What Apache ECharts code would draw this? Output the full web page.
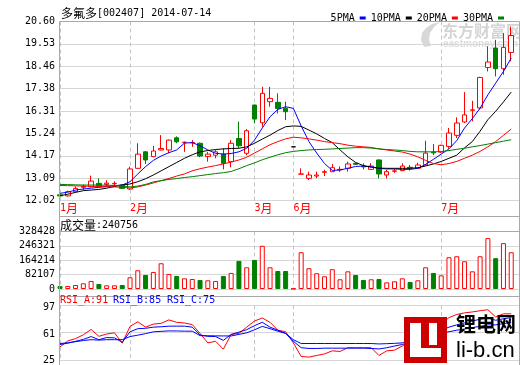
<!DOCTYPE html>
<html><head><meta charset="utf-8">
<script src="https://cdn.jsdelivr.net/npm/echarts@6/dist/echarts.min.js"></script>
<style>html,body{margin:0;padding:0;background:#fff}#c{width:520px;height:365px}</style>
</head><body><div id="c"></div>
<script>
const categories = [
 '2014-01-20','2014-01-21','2014-01-22','2014-01-23','2014-01-24','2014-01-27','2014-01-28','2014-01-29','2014-01-30',
 '2014-02-07','2014-02-10','2014-02-11','2014-02-12','2014-02-13','2014-02-14','2014-02-17','2014-02-18','2014-02-19','2014-02-20','2014-02-21','2014-02-24','2014-02-25','2014-02-26','2014-02-27','2014-02-28',
 '2014-03-03','2014-03-04','2014-03-05','2014-03-06','2014-03-07',
 '2014-06-04','2014-06-05','2014-06-06','2014-06-09','2014-06-10','2014-06-11','2014-06-12','2014-06-13','2014-06-16','2014-06-17','2014-06-18','2014-06-19','2014-06-20','2014-06-23','2014-06-24','2014-06-25','2014-06-26','2014-06-27','2014-06-30',
 '2014-07-01','2014-07-02','2014-07-03','2014-07-04','2014-07-07','2014-07-08','2014-07-09','2014-07-10','2014-07-11','2014-07-14'
];
const openP  = [12.30,12.25,12.45,12.66,12.69,12.85,12.80,12.83,12.77,12.58,13.57,14.36,14.13,14.45,14.45,15.03,14.80,14.79,14.77,14.13,14.20,14.25,13.89,15.00,14.29,16.60,15.75,16.76,16.73,16.44,14.60,13.29,13.09,13.20,13.38,13.41,13.50,13.57,13.81,13.68,13.52,13.97,13.25,13.43,13.46,13.62,13.57,13.74,14.35,14.35,14.62,15.15,15.79,16.35,16.46,18.40,19.33,18.34,19.12];
const closeP = [12.25,12.45,12.61,12.70,12.96,12.74,12.86,12.85,12.61,13.54,14.25,13.97,14.40,14.52,14.92,14.84,14.82,14.81,14.16,14.25,14.36,13.81,14.77,14.65,15.37,15.93,17.16,16.92,16.44,16.28,14.60,13.30,13.25,13.25,13.41,13.60,13.52,13.78,13.76,13.64,13.68,13.30,13.41,13.45,13.68,13.58,13.73,14.30,14.31,14.67,15.26,15.74,16.13,16.37,17.92,18.66,18.34,19.36,19.93];
const lowP   = [12.20,12.22,12.42,12.53,12.66,12.70,12.70,12.70,12.58,12.53,13.55,13.78,14.10,14.43,14.29,14.77,14.36,14.60,14.10,13.89,14.05,13.52,13.62,14.54,14.20,15.74,15.56,16.52,16.20,15.88,14.60,13.29,13.01,13.10,13.20,13.41,13.40,13.41,13.74,13.52,13.50,13.09,13.09,13.35,13.44,13.46,13.55,13.70,14.20,14.30,14.51,15.02,15.74,15.82,16.40,18.21,17.97,18.05,18.69];
const highP  = [12.40,12.50,12.70,12.80,13.22,13.09,13.00,12.95,12.80,13.65,14.77,14.40,14.65,15.16,14.95,15.10,14.85,14.92,14.80,14.35,14.45,14.53,14.92,15.80,15.45,16.62,17.47,17.47,17.16,16.76,14.60,13.57,13.41,13.41,13.50,13.78,13.66,13.89,13.83,13.81,13.82,14.00,13.50,13.55,13.81,13.73,13.84,14.89,14.73,14.70,15.50,16.01,17.22,16.80,17.95,19.41,19.72,20.04,20.36];
const ma5  = [12.37,12.43,12.53,12.58,12.62,12.66,12.70,12.74,12.77,12.93,13.30,13.65,13.95,14.16,14.32,14.45,14.78,14.80,14.65,14.45,14.29,14.25,14.28,14.36,14.53,14.92,15.50,16.04,16.39,16.52,16.44,15.60,14.85,14.30,13.80,13.47,13.49,13.57,13.66,13.68,13.65,13.57,13.54,13.54,13.52,13.52,13.57,13.76,14.00,14.25,14.50,14.90,15.50,15.95,16.45,17.09,17.65,18.21,18.85];
const ma10 = [12.26,12.33,12.42,12.50,12.53,12.56,12.62,12.70,12.77,12.82,12.93,13.07,13.25,13.45,13.65,13.85,14.05,14.22,14.36,14.42,14.47,14.50,14.52,14.53,14.60,14.77,14.97,15.16,15.38,15.56,15.60,15.58,15.40,15.22,15.00,14.80,14.45,14.12,13.85,13.70,13.62,13.58,13.57,13.57,13.57,13.57,13.60,13.68,13.78,13.90,14.05,14.20,14.55,14.85,15.35,15.90,16.30,16.75,17.22];
const ma20 = [12.75,12.74,12.73,12.72,12.71,12.70,12.69,12.68,12.66,12.63,12.68,12.77,12.87,12.98,13.08,13.20,13.30,13.45,13.55,13.63,13.70,13.78,13.87,13.97,14.10,14.30,14.50,14.70,14.85,14.98,15.06,15.03,14.98,14.92,14.85,14.80,14.75,14.68,14.63,14.60,14.57,14.50,14.45,14.40,14.35,14.25,14.12,13.95,13.80,13.74,13.80,13.90,14.05,14.20,14.38,14.60,14.85,15.15,15.45];
const ma30 = [12.80,12.79,12.78,12.77,12.77,12.77,12.76,12.75,12.73,12.68,12.72,12.80,12.92,12.98,13.04,13.08,13.13,13.17,13.22,13.27,13.32,13.36,13.42,13.55,13.70,13.83,13.98,14.10,14.22,14.32,14.38,14.42,14.45,14.47,14.48,14.50,14.52,14.54,14.56,14.56,14.54,14.50,14.47,14.45,14.42,14.38,14.36,14.36,14.36,14.37,14.42,14.48,14.53,14.60,14.66,14.73,14.80,14.87,14.94];
const volume = [17000,17000,23000,32500,46000,28700,21000,21000,23000,67000,107000,80000,97400,147000,86000,74500,61000,57000,51600,49700,46000,74500,91700,160500,124000,166000,246500,124000,103000,103000,2000,210000,118600,90000,72600,113000,55400,101000,80000,51600,55400,57000,38000,44000,61000,40000,49700,124000,91700,78000,181500,187000,158500,101000,187000,290500,176000,262000,210000];
const rsiA = [42,50,53,58,65,56,59,60.6,47,69,75,68,72,73,77.5,74.3,73.4,71.4,59.8,47.4,49.5,39.2,58.5,59.8,68,76,80,74.3,64,62,47.4,29.6,28.8,30.9,33,37,36.2,41.1,41.1,41.1,41.1,30.9,37,37.9,43.3,49.5,55.7,62,64,72,80.5,84.6,86.7,87.9,89.5,90.8,81.3,85.5,85.5];
const rsiB = [45.3,47,49.5,52,55.7,51.6,54.4,54,48.2,61.9,66,66.5,68,68.5,69.3,69.3,69.3,68,57.8,56,55.7,50.7,58.5,61.5,64.7,70,74.3,68,64,59.8,49.5,41.1,40.1,40.1,40.5,40.5,40.5,40.5,40.5,40.5,40.1,39.5,41,43.3,45.3,48,52,56,59,64,68,71,73.5,76,78.4,80,77,79,80.5];
const rsiC = [46.6,47.5,49,50.5,51.6,51,51.6,51.6,51.6,55.7,57.5,59.5,61.9,62.5,63.1,63,62.8,62.7,56.9,56.7,56.6,56.5,56.5,58.5,60.6,64.5,69,66,62.7,59.8,51.6,46.6,46.6,46.6,46.6,46.6,46.6,46.6,46.6,46.6,46.6,46,46.4,46.8,47.4,49,51,53,56,59.8,62,64,65.5,67.5,69,71,71,72.5,74.3];
const priceTicks = ['12.02','13.09','14.17','15.24','16.31','17.38','18.46','19.53','20.60'];
const volumeTicks = ['0','82107','164214','246321','328428'];
const rsiTicks = ['25','61','97'];

const MONO = '"DejaVu Sans Mono","Liberation Mono",monospace';
const FONT = '"Liberation Sans","Noto Sans CJK SC",sans-serif';
const CJK = '"Noto Sans CJK SC","Liberation Sans",sans-serif';
const UP = '#ff0000', DOWN = '#008000';
const GRID_LINE = '#d6d6d6', FRAME = '#a8a8a8';
const richMix = (color) => ({
  c: {fontSize:12, fontFamily:CJK, color},
  a: {fontSize:10, fontFamily:MONO, color}
});

const monthOf = i => categories[i] ? +categories[i].slice(5,7) : null;
const isMonthStart = i => i < categories.length && (i === 0 || monthOf(i) !== monthOf(i-1));

const candleData = categories.map((d, i) => {
  const item = {value: [openP[i], closeP[i], lowP[i], highP[i]]};
  if (highP[i] === lowP[i]) item.itemStyle = {color:'#000', color0:'#000', borderColor:'#000', borderColor0:'#000'};
  return item;
});
const volData = volume.map((v, i) => {
  const up = closeP[i] >= openP[i];
  return {value: v, itemStyle: up ? {color:'#fff', borderColor: UP, borderWidth:1} : {color: DOWN, borderColor: DOWN, borderWidth:1}};
});

const gridDefs = [
  {left:60, top:21.5, width:459, height:179.2},
  {left:60, top:231.5, width:459, height:57.5},
  {left:60, top:305, width:459, height:60}
];
const xAxes = gridDefs.map((g, gi) => ({
  type:'category', gridIndex: gi, data: categories, boundaryGap:false, max: categories.length,
  axisLine:{show:false}, axisTick:{show:false},
  axisLabel:{show: gi === 0, interval: (i) => isMonthStart(i), formatter: (v, i) => '{a|' + monthOf(i) + '}{c|月}',
    rich: richMix(UP), align:'left', margin:2},
  splitLine:{show:true, interval: (i) => isMonthStart(i), lineStyle:{color:'#c4c4c4', type:[4,3], width:1}}
}));
const yLabel = (ticks, min, step, padTop) => ({color:'#000', fontSize:10, fontFamily: MONO, margin:5, padding:[padTop,0,0,0],
  formatter: v => ticks[Math.round((v - min) / step)] || ''});
const yAxes = [
  {type:'value', gridIndex:0, min:12.02, max:20.60, interval:1.0725, axisLine:{show:false}, axisTick:{show:false},
   axisLabel: yLabel(priceTicks, 12.02, 1.0725, 2), splitLine:{lineStyle:{color:GRID_LINE}}},
  {type:'value', gridIndex:1, min:0, max:328428, interval:82107, axisLine:{show:false}, axisTick:{show:false},
   axisLabel: yLabel(volumeTicks, 0, 82107, 2), splitLine:{lineStyle:{color:GRID_LINE}}},
  {type:'value', gridIndex:2, min:25, max:97, interval:36, axisLine:{show:false}, axisTick:{show:false},
   axisLabel: Object.assign(yLabel(rsiTicks, 25, 36, 4), {
     formatter: v => { const t = rsiTicks[Math.round((v - 25) / 36)] || ''; return v <= 25 ? '{low|' + t + '}' : t; },
     rich: {low: {fontSize:10, fontFamily: MONO, color:'#000', padding:[0,0,4,0]}}
   }), splitLine:{lineStyle:{color:GRID_LINE}}}
];
const lineS = (name, data, color, xi, yi) => ({name, type:'line', data, xAxisIndex:xi, yAxisIndex:yi,
  symbol:'none', lineStyle:{width:1, color}, itemStyle:{color}, z:5, animation:false, silent:true});

const hl = (x1, y1, x2, y2) => ({type:'line', shape:{x1, y1, x2, y2}, style:{stroke: FRAME, lineWidth:1}, z:10});
const txt = (left, top, text, font, fill, z) => ({type:'text', left, top, z: z || 10, style:{text, font, fill}});

const chart = echarts.init(document.getElementById('c'), null, {renderer:'canvas'});
chart.setOption({
  animation:false,
  backgroundColor:'#fff',
  grid: gridDefs,
  xAxis: xAxes,
  yAxis: yAxes,
  legend: {data:['5PMA','10PMA','20PMA','30PMA'], right:11, top:8, align:'right', icon:'rect',
    itemWidth:6, itemHeight:3, itemGap:5, textStyle:{fontSize:10, fontFamily:MONO, color:'#000'}, selectedMode:false},
  series: [
    {type:'candlestick', name:'K', xAxisIndex:0, yAxisIndex:0, data:candleData, barWidth:5, clip:false,
     itemStyle:{color:'#fff', color0:DOWN, borderColor:UP, borderColor0:DOWN, borderWidth:1}, z:3},
    lineS('5PMA', ma5, '#0000ff', 0, 0),
    lineS('10PMA', ma10, '#000000', 0, 0),
    lineS('20PMA', ma20, '#ff0000', 0, 0),
    lineS('30PMA', ma30, '#008000', 0, 0),
    {type:'bar', name:'VOL', xAxisIndex:1, yAxisIndex:1, data:volData, barWidth:5, clip:false},
    lineS('RSI_A', rsiA, '#ff0000', 2, 2),
    lineS('RSI_B', rsiB, '#0000ff', 2, 2),
    lineS('RSI_C', rsiC, '#0000ff', 2, 2)
  ],
  graphic: [
    hl(59.5, 21.5, 519.5, 21.5), hl(59.5, 21.5, 59.5, 365), hl(519.5, 21.5, 519.5, 365),
    hl(59.5, 216.5, 519.5, 216.5), hl(59.5, 231.5, 519.5, 231.5), hl(59.5, 296.5, 519.5, 296.5),
    {type:'text', left:61, top:7, style:{text:'{c|多氟多}{a|[002407] 2014-07-14}', rich: richMix('#000')}},
    {type:'text', left:60, top:219, style:{text:'{c|成交量}{a|:240756}', rich: richMix('#000')}},
    txt(60, 295, 'RSI_A:91', '10px ' + MONO, '#ff0000'),
    txt(113, 295, 'RSI_B:85', '10px ' + MONO, '#0000ff'),
    txt(167, 295, 'RSI_C:75', '10px ' + MONO, '#0000ff'),
    txt(442, 23, '东方财富网', 'bold 16px ' + CJK, '#d4d4d4', 1),
    txt(443, 39, 'eastmoney.com', 'bold 10px ' + FONT, '#dcdcdc', 1),
    {type:'polygon', z:1, shape:{points:[[424,47],[421,40],[422,33],[426,28],[432,24],[440,22],[434,27],[430,33],[429,40],[431,46]]}, style:{fill:'#d8d8d8'}},
    {type:'rect', shape:{x:404, y:317, width:43, height:46}, style:{fill:'#cc0000'}, z:20},
    {type:'rect', shape:{x:410, y:323, width:11, height:34}, style:{fill:'#fff'}, z:21},
    {type:'rect', shape:{x:410, y:348, width:31, height:9}, style:{fill:'#fff'}, z:21},
    {type:'rect', shape:{x:429, y:323, width:8, height:22}, style:{fill:'#fff'}, z:21},
    txt(456, 314, '锂电网', 'bold 20px ' + CJK, '#000', 20),
    txt(456, 340, 'li-b.cn', '22px ' + FONT, '#000', 20)
  ]
});
</script></body></html>
